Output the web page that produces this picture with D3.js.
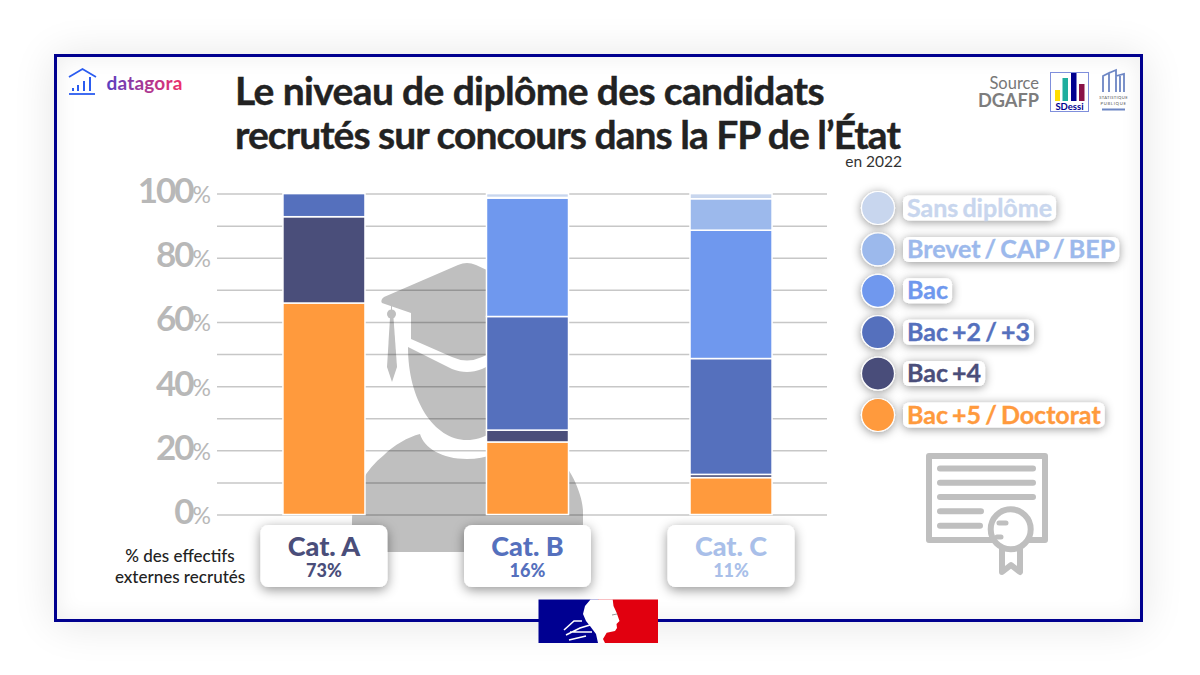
<!DOCTYPE html>
<html lang="fr"><head><meta charset="utf-8">
<script src="https://cdn.jsdelivr.net/npm/d3@7"></script>
<style>
html,body{margin:0;padding:0;background:#fff;width:1200px;height:675px;overflow:hidden}
#frame{position:absolute;left:53.5px;top:54px;width:1083px;height:562px;border:3.5px solid #00008f;background:#fff;
 box-shadow:0 2px 40px rgba(0,0,0,.11), inset 0 0 22px rgba(0,0,0,.07)}
svg{position:absolute;left:0;top:0;font-family:Lato,sans-serif}
</style></head><body><div id="frame"></div><svg id="c" width="1200" height="675"></svg>
<script>
const categories=["Cat. A","Cat. B","Cat. C"];
const shares=["73%","16%","11%"];
const levels=["Bac +5 / Doctorat","Bac +4","Bac +2 / +3","Bac","Brevet / CAP / BEP","Sans diplôme"];
const colors=["#ff9a3d","#4a4e7a","#5570bd","#6f98ee","#9cb9ec","#c8d6ee"];
const catColors=["#4a4e7a","#5570bd","#a9bfe9"];
const bacCinq=[65.9,22.6,11.5];
const bacQuatre=[26.9,3.7,1.0];
const bacDeux=[7.2,35.4,36.1];
const bac=[0,36.9,40.0];
const brevet=[0,0.2,9.8];
const sans=[0,1.2,1.6];
const yTicks=[0,10,20,30,40,50,60,70,80,90,100];
const labelled=[0,20,40,60,80,100];

const svg=d3.select("#c");
const defs=svg.append("defs");
const sh=(id,dy,b,o)=>defs.append("filter").attr("id",id).attr("x","-40%").attr("y","-60%").attr("width","180%").attr("height","240%")
  .append("feDropShadow").attr("dx",0).attr("dy",dy).attr("stdDeviation",b).attr("flood-color","#000").attr("flood-opacity",o);
sh("cardS",3,6,.42); sh("legS",1.5,5,.42);
const gr=defs.append("linearGradient").attr("id","dg").attr("x1",0).attr("x2",1);
gr.append("stop").attr("offset",0).attr("stop-color","#5b3fc0");
gr.append("stop").attr("offset",1).attr("stop-color","#f0306a");

/* graduate silhouette behind the chart */
const G="#bfbfbf";
const deco=svg.append("g").attr("fill",G);
deco.append("path").attr("d","M352 520C352 498 362 472 384 455C394 445 408 437 420 434C424 448 442 459 467 459C492 459 510 448 514 434C540 441 566 458 576 484C581 496 583 505 583 512L583 530Q583 552 560 552L375 552Q352 552 352 530Z");
deco.append("path").attr("d","M408 347L452 369C462 373 472 373 482 369L527 347C527 400 500 440 467 440C434 440 408 400 408 347Z");
deco.append("path").attr("d","M411 313L382 303Q380 300 384 297L458 265Q467 261 476 265L552 300L523 313L523 339L482 357Q467 364 452 357L411 339Z");
deco.append("path").attr("d","M391 305h1v6h-1Z");
deco.append("circle").attr("cx",391.5).attr("cy",314).attr("r",4.5);
deco.append("path").attr("d","M390 318h3.5L397 367L392 382L387 367Z");

/* scales */
const x=d3.scaleBand().domain(categories).range([222.5,832.5]).paddingInner(0.597).paddingOuter(0.297);
const y=d3.scaleLinear().domain([0,100]).range([514.5,193.6]);
const yAxis=d3.axisLeft(y).tickValues(yTicks).tickSize(0).tickPadding(6)
  .tickFormat(d=>labelled.includes(d)?d:"");
const ag=svg.append("g").attr("transform","translate(217,0)").call(yAxis);
ag.select(".domain").remove();
ag.selectAll(".tick").append("line").attr("x2",610).attr("stroke","#000").attr("stroke-opacity",.22).attr("stroke-width",1.5);
ag.selectAll(".tick text").each(function(d){
  const t=d3.select(this);
  if(!labelled.includes(d)){t.remove();return;}
  t.text(null).attr("x",-6).attr("dy",9).attr("fill","#b8b8b8").attr("font-family","Lato").attr("font-weight",700).attr("text-anchor","end");
  t.append("tspan").attr("font-size",35).attr("letter-spacing",-2).text(d);
  t.append("tspan").attr("font-size",23).attr("font-weight",400).text("%");
});

/* stacked bars */
const rows=categories.map((c,i)=>{const o={cat:c};
  [bacCinq,bacQuatre,bacDeux,bac,brevet,sans].forEach((s,k)=>o[levels[k]]=s[i]);return o;});
const stack=d3.stack().keys(levels)(rows);
svg.append("g").selectAll("g").data(stack).join("g").attr("fill",(d,i)=>colors[i])
 .selectAll("rect").data(d=>d.filter(p=>p[1]-p[0]>0)).join("rect")
 .attr("x",d=>x(d.data.cat)).attr("width",x.bandwidth())
 .attr("y",d=>y(d[1])).attr("height",d=>y(d[0])-y(d[1]))
 .attr("stroke","#fff").attr("stroke-width",1.5);

/* category cards */
const card=svg.append("g").selectAll("g").data(categories).join("g")
 .attr("transform",d=>`translate(${x(d)+x.bandwidth()/2},0)`);
card.append("rect").attr("x",-63.5).attr("y",525).attr("width",127).attr("height",62).attr("rx",8).attr("fill","#fff").attr("filter","url(#cardS)");
card.append("text").attr("y",556).attr("text-anchor","middle").attr("font-size",27).attr("font-weight",900).attr("fill",(d,i)=>catColors[i]).text(d=>d);
card.append("text").attr("y",577).attr("text-anchor","middle").attr("font-size",18).attr("font-weight",900).attr("fill",(d,i)=>catColors[i]).text((d,i)=>shares[i]);

svg.append("text").attr("x",180).attr("y",561.5).attr("text-anchor","middle").attr("font-size",17).attr("font-weight",500).attr("fill","#222").text("% des effectifs");
svg.append("text").attr("x",180).attr("y",582.5).attr("text-anchor","middle").attr("font-size",17).attr("font-weight",500).attr("fill","#222").text("externes recrutés");

/* legend */
const legY=d3.scalePoint().domain(levels).range([415,208]);
const leg=svg.append("g").selectAll("g").data(levels).join("g").attr("transform",d=>`translate(0,${legY(d)})`);
leg.append("circle").attr("cx",878).attr("r",16.5).attr("fill",(d,i)=>colors[i]).attr("stroke","#fff").attr("stroke-width",1.2).attr("filter","url(#legS)");
const lt=leg.append("text").attr("x",907).attr("y",8.5).attr("font-size",25).attr("font-weight",700).attr("fill",(d,i)=>colors[i])
  .attr("stroke",(d,i)=>colors[i]).attr("stroke-width",.35).attr("word-spacing",-2).text(d=>d);
lt.each(function(){
  const w=this.getComputedTextLength();
  d3.select(this.parentNode).insert("rect","text").attr("x",903).attr("y",-12.5).attr("width",w+8).attr("height",25).attr("rx",6).attr("fill","#fff").attr("filter","url(#legS)");
});

/* title */
const tt=svg.append("g").attr("fill","#222").attr("stroke","#222").attr("stroke-width",.4).attr("font-size",39).attr("font-weight",700);
tt.append("text").attr("x",235).attr("y",105).attr("letter-spacing",-0.64).text("Le niveau de diplôme des candidats");
tt.append("text").attr("x",235).attr("y",149).attr("letter-spacing",-0.98).text("recrutés sur concours dans la FP de l’État");
svg.append("text").attr("x",902).attr("y",167).attr("text-anchor","end").attr("font-size",15.5).attr("fill","#333").text("en 2022");

/* datagora */
const dl=svg.append("g").attr("fill","none").attr("stroke","#2b5cf0");
dl.append("path").attr("stroke-width",1.8).attr("d","M69 77L82.5 69L96 77");
dl.append("path").attr("stroke-width",1.8).attr("d","M69 94H95");
dl.append("path").attr("stroke-width",2).attr("d","M73 91V88M78 91V85M84 91V81M90 91V77");
svg.append("text").attr("x",106.5).attr("y",90).attr("font-size",19).attr("font-weight",700).attr("letter-spacing",.2).attr("fill","url(#dg)").text("datagora");

/* source */
svg.append("text").attr("x",1039).attr("y",88.5).attr("text-anchor","end").attr("font-size",16.5).attr("fill","#777").text("Source");
svg.append("text").attr("x",1039).attr("y",107).attr("text-anchor","end").attr("font-size",18.2).attr("font-weight",700).attr("fill","#7d7d7d").text("DGAFP");
const sd=svg.append("g");
sd.append("rect").attr("x",1050.5).attr("y",72.5).attr("width",38).attr("height",39).attr("fill","#fff").attr("stroke","#7f8fdc");
[[1055,90,5,"#ffdd00"],[1062.5,78,5.5,"#1fae9e"],[1071,73,5.5,"#00008f"],[1079,84,5.5,"#8a1246"]].forEach(b=>
  sd.append("rect").attr("x",b[0]).attr("y",b[1]).attr("width",b[2]).attr("height",101-b[1]).attr("fill",b[3]));
sd.append("text").attr("x",1069.5).attr("y",110).attr("text-anchor","middle").attr("font-size",9.5).attr("font-weight",700).attr("fill","#00008f").text("SDessi");
svg.append("path").attr("fill","none").attr("stroke","#6d86c4").attr("stroke-width",1.8)
 .attr("d","M1103 92V76L1109 73V92M1109 73L1116 70V92M1116 76L1124 74V92M1120 92V76");
svg.append("text").attr("x",1113.5).attr("y",99).attr("text-anchor","middle").attr("font-size",4.2).attr("letter-spacing",.3).attr("fill","#555").text("STATISTIQUE");
svg.append("text").attr("x",1113.5).attr("y",105).attr("text-anchor","middle").attr("font-size",4.2).attr("letter-spacing",.7).attr("fill","#555").text("PUBLIQUE");
svg.append("rect").attr("x",1102).attr("y",108.5).attr("width",23).attr("height",2).attr("fill","#6d86c4");

/* diploma icon */
const d=svg.append("g").attr("fill","none").attr("stroke","#bfbfbf").attr("stroke-width",6).attr("stroke-linecap","round").attr("stroke-linejoin","round");
d.append("rect").attr("x",929).attr("y",456).attr("width",116).attr("height",84);
d.append("path").attr("d","M940 468.5H1033M940 482.7H1033M940 497H1033M940 511.3H981M940 525.7H980");
d.append("path").attr("fill","#fff").attr("d","M1002 546V572L1011 565L1020 572V546");
d.append("circle").attr("cx",1010.7).attr("cy",529.3).attr("r",20).attr("fill","#fff");
d.append("path").attr("stroke-width",5).attr("d","M999 523H1006M997 537H1001");

/* Marianne */
const m=svg.append("g");
m.append("rect").attr("x",538.5).attr("y",599.5).attr("width",60).attr("height",43.5).attr("fill","#000091");
m.append("rect").attr("x",598).attr("y",599.5).attr("width",60).attr("height",43.5).attr("fill","#e1000f");
m.append("path").attr("fill","#fff").attr("d","M590.5 599.5H612.7L613.5 606L616.5 612.5L619.5 621L616.5 624L617 628L615 631L606.7 632.7L603 639L605 643H598L596 634L590 626L586 621L583 614L585 606Z");
m.append("path").attr("fill","none").attr("stroke","#fff").attr("stroke-width",1.6).attr("d","M564 630L574 621L582 621M566 635L580 628L590 625M570 632L592 632M569 640L586 636");
m.append("path").attr("fill","none").attr("stroke","#999").attr("stroke-width",1).attr("d","M612 615L617 614");
</script></body></html>
